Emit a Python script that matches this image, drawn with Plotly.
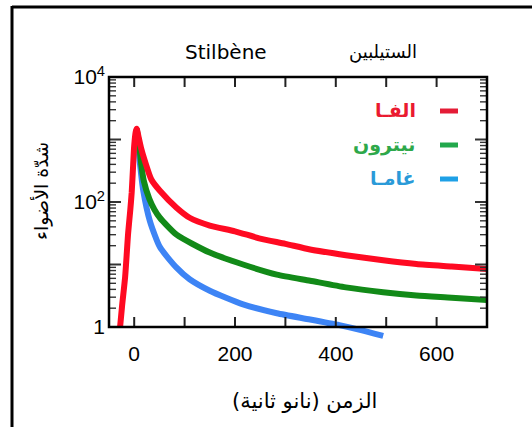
import math
import plotly.graph_objects as go

# ---------------- data ----------------
alpha_t = [-28, -24, -18, -12, -8, -5, -2, 0, 3, 5, 9, 14, 21, 34, 51, 84, 110, 150, 200, 250, 300, 349, 420, 494, 560, 630, 700]
alpha_i = [1.0, 2.2, 6.3, 32, 71, 141, 400, 794, 1320, 1480, 1070, 710, 457, 229, 151, 81, 56, 42, 34, 26, 21.4, 17.4, 14.1, 11.7, 10.2, 9.3, 8.5]

neutron_t = [5, 10, 14, 19, 30, 40, 51, 84, 150, 216, 283, 349, 420, 494, 560, 630, 700]
neutron_i = [1480, 794, 400, 219, 112, 76, 56, 30, 15.5, 10, 6.9, 5.5, 4.3, 3.6, 3.2, 2.95, 2.7]

gamma_t = [5, 9, 13, 18, 31, 51, 84, 110, 150, 216, 283, 349, 407, 450, 494]
gamma_i = [1480, 630, 316, 151, 50, 19, 8.9, 5.8, 3.8, 2.3, 1.66, 1.32, 1.07, 0.89, 0.72]

series_names = ["الفـا", "نيترون", "غامـا"]
line_colors = ["#ff0a22", "#128a18", "#3d84f5"]
text_colors = ["#ea1a30", "#2ea84a", "#2a9ad8"]
swatch_colors = ["#e41c36", "#22a84c", "#1ea0e6"]

x_tickvals = [0, 200, 400, 600]
x_tickmarks = [0, 100, 200, 300, 400, 500, 600]
y_tickvals = [1, 100, 10000]
y_ticktext = ["1", "10<sup>2</sup>", "10<sup>4</sup>"]
y_major_marks = [1, 10, 100, 1000, 10000]
y_minor_marks = [m * 10 ** k for k in range(0, 4) for m in range(2, 10)]

title_latin = "Stilbène"
title_arabic = "الستيلبين"
x_title = "الزمن (نانو ثانية)"
y_title = "شدّة الأضواء"

# ---------------- geometry ----------------
W, H = 532, 427
L, R, T, B = 109, 45, 77, 80
PW, PH = W - L - R, H - T - B
axis_bottom_px = 327
AXH = axis_bottom_px - T
dom0 = (T + PH - axis_bottom_px) / PH
ext = (T + PH - axis_bottom_px) / (AXH / 4.0)
Y_LOG_MIN, Y_LOG_MAX = 0, 4


def px(x):
    return (x - L) / PW


def py(y):
    return (T + PH - y) / PH


fig = go.Figure()
# data curves on an unframed subplot that reaches a little below the frame
for t, v, c, n in zip([gamma_t, neutron_t, alpha_t], [gamma_i, neutron_i, alpha_i],
                      line_colors[::-1], series_names[::-1]):
    fig.add_trace(go.Scatter(x=t, y=v, mode="lines", name=n,
                             line=dict(color=c, width=6, shape="spline", smoothing=0.6),
                             xaxis="x", yaxis="y", showlegend=False))
# empty trace so the framed subplot exists
fig.add_trace(go.Scatter(x=[None], y=[None], mode="lines", showlegend=False, hoverinfo="skip",
                         xaxis="x2", yaxis="y2"))

tickfont = dict(family="Liberation Sans, Arial, sans-serif", size=21, color="black")
fig.update_layout(
    width=W, height=H,
    margin=dict(l=L, r=R, t=T, b=B),
    paper_bgcolor="white", plot_bgcolor="rgba(0,0,0,0)",
    showlegend=False,
    xaxis=dict(domain=[0, 1], range=[-50, 700], anchor="y", visible=False),
    yaxis=dict(domain=[0, 1], type="log", range=[-ext, Y_LOG_MAX], anchor="x", visible=False),
    xaxis2=dict(domain=[0, 1], range=[-50, 700], anchor="y2",
                tickmode="array", tickvals=x_tickvals, ticks="",
                showline=False, showgrid=False, zeroline=False, tickfont=tickfont,
                ticklabelstandoff=12),
    yaxis2=dict(domain=[dom0, 1], type="log", range=[Y_LOG_MIN, Y_LOG_MAX], anchor="x2",
                tickmode="array", tickvals=y_tickvals, ticktext=y_ticktext, ticks="",
                showline=False, showgrid=False, zeroline=False, tickfont=tickfont,
                ticklabelstandoff=3),
)

annotations = [
    dict(text=title_latin, x=px(226), y=py(52), font=dict(family="DejaVu Sans", size=20, color="black")),
    dict(text=title_arabic, x=px(383), y=py(52), font=dict(family="DejaVu Sans", size=18, color="black")),
    dict(text=x_title, x=px(304), y=py(401), font=dict(family="DejaVu Sans", size=21, color="black")),
    dict(text=y_title, x=px(41), y=py(191), textangle=-90, font=dict(family="DejaVu Sans", size=19, color="black")),
]
legend_y = [110, 144, 178]
for n, c, yy in zip(series_names, text_colors, legend_y):
    annotations.append(dict(text="<b>" + n + "</b>", x=px(418), y=py(yy), xanchor="right",
                            font=dict(family="DejaVu Sans", size=19, color=c)))
for a in annotations:
    a.setdefault("xanchor", "center")
    a.update(xref="paper", yref="paper", showarrow=False, yanchor="middle")
fig.update_layout(annotations=annotations)

shapes = []
# tick marks of the framed axes (inside, on all four sides)
xt = 10 / AXH
for v in x_tickmarks:
    for y0, y1 in ((0, xt), (1, 1 - xt)):
        shapes.append(dict(type="line", xref="x2", yref="y2 domain", x0=v, x1=v, y0=y0, y1=y1,
                           line=dict(color="#222", width=2)))
for marks, ln, wd in ((y_major_marks, 12, 2), (y_minor_marks, 7, 1.4)):
    f = ln / PW
    for v in marks:
        yy = (math.log10(v) - Y_LOG_MIN) / (Y_LOG_MAX - Y_LOG_MIN)
        for x0, x1 in ((0, f), (1, 1 - f)):
            shapes.append(dict(type="line", xref="x2 domain", yref="y2 domain", x0=x0, x1=x1,
                               y0=yy, y1=yy, line=dict(color="#333", width=wd)))
# frame of the plot
shapes.append(dict(type="rect", xref="x2 domain", yref="y2 domain", x0=0, x1=1, y0=0, y1=1,
                   line=dict(color="black", width=2.5)))
for c, yy in zip(swatch_colors, legend_y):
    shapes.append(dict(type="line", xref="paper", yref="paper", x0=px(440), x1=px(458),
                       y0=py(yy + 1), y1=py(yy + 1), line=dict(color=c, width=5)))
# outer frame of the picture
shapes.append(dict(type="line", xref="paper", yref="paper", x0=px(12), x1=px(540), y0=py(7), y1=py(7),
                   line=dict(color="black", width=3)))
shapes.append(dict(type="line", xref="paper", yref="paper", x0=px(12), x1=px(12), y0=py(6), y1=py(440),
                   line=dict(color="black", width=3)))
fig.update_layout(shapes=shapes)

fig.write_html("out.html", config={"displayModeBar": False},
               post_script="document.body.style.margin='0px';")
